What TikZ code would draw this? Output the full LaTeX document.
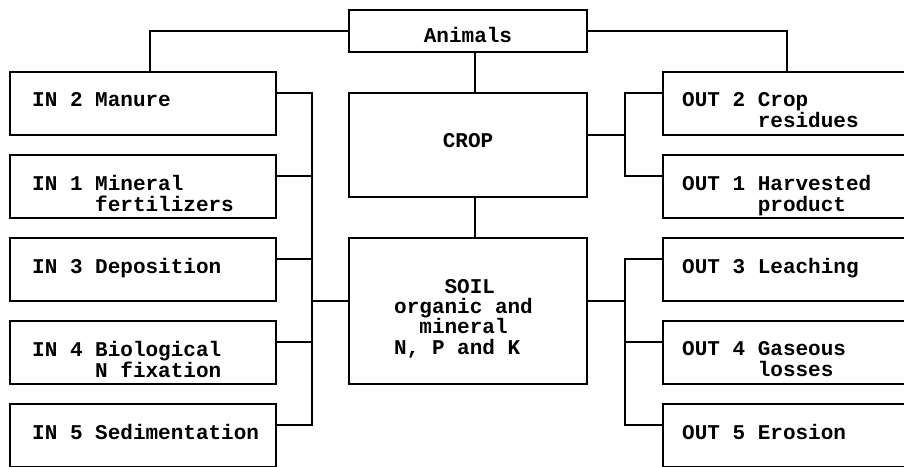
\documentclass[tikz,border=0pt]{standalone}
\usepackage{fontspec}
\setmonofont{Liberation Mono}
\usetikzlibrary{positioning,calc}
\tikzset{
  box/.style={
    draw,
    line width=1.8pt,
    inner sep=0pt,
    outer sep=0pt,
    minimum height=63pt
  },
  inbox/.style={box, minimum width=266pt},
  outbox/.style={box, minimum width=248pt},
  midbox/.style={box, minimum width=238pt, font=\lbfont},
  lbl/.style={anchor=north west, inner sep=0pt, align=left, font=\lbfont},
  link/.style={line width=1.8pt}
}
\newcommand{\lbfont}{\ttfamily\bfseries\fontsize{21}{21}\selectfont}

\begin{document}
\begin{tikzpicture}[x=1pt,y=-1pt]
  \useasboundingbox (0,0) rectangle (904,466);
  \clip (0,0) rectangle (904,466);

  % centre column
  \node[midbox,minimum height=42pt,anchor=north west,text height=22pt,text depth=0pt] (animals) at (349,10) {Animals};
  \node[midbox,minimum height=104pt,anchor=north west,text depth=10pt] (crop) at (349,93) {CROP};
  \node[midbox,minimum height=146pt,anchor=north west] (soil) at (349,238) {};
  \node[lbl,font=\ttfamily\bfseries\fontsize{21}{20.3}\selectfont] (t-soil)
    at ([shift={(45pt,-41pt)}]soil.north west)
    {\phantom{oooo}SOIL\\organic and\\\phantom{oo}mineral\\N, P and K};

  % inputs
  \node[inbox,anchor=north west] (in2) at (10,72) {};
  \node[inbox,below=20pt of in2] (in1) {};
  \node[inbox,below=20pt of in1] (in3) {};
  \node[inbox,below=20pt of in3] (in4) {};
  \node[inbox,below=20pt of in4] (in5) {};

  % outputs
  \node[outbox,anchor=north west] (out2) at (663,72) {};
  \node[outbox,below=20pt of out2] (out1) {};
  \node[outbox,below=20pt of out1] (out3) {};
  \node[outbox,below=20pt of out3] (out4) {};
  \node[outbox,below=20pt of out4] (out5) {};

  \node[lbl] (t-in2) at ([shift={(22pt,-20pt)}]in2.north west) {IN 2 Manure};
  \node[lbl] (t-in1) at ([shift={(22pt,-20pt)}]in1.north west) {IN 1 Mineral\\\phantom{IN 1 }fertilizers};
  \node[lbl] (t-in3) at ([shift={(22pt,-20pt)}]in3.north west) {IN 3 Deposition};
  \node[lbl] (t-in4) at ([shift={(22pt,-20pt)}]in4.north west) {IN 4 Biological\\\phantom{IN 4 }N fixation};
  \node[lbl] (t-in5) at ([shift={(22pt,-20pt)}]in5.north west) {IN 5 Sedimentation};

  \node[lbl] (t-out2) at ([shift={(19pt,-20pt)}]out2.north west) {OUT 2 Crop\\\phantom{OUT 2 }residues};
  \node[lbl] (t-out1) at ([shift={(19pt,-20pt)}]out1.north west) {OUT 1 Harvested\\\phantom{OUT 1 }product};
  \node[lbl] (t-out3) at ([shift={(19pt,-20pt)}]out3.north west) {OUT 3 Leaching};
  \node[lbl] (t-out4) at ([shift={(19pt,-20pt)}]out4.north west) {OUT 4 Gaseous\\\phantom{OUT 4 }losses};
  \node[lbl] (t-out5) at ([shift={(19pt,-20pt)}]out5.north west) {OUT 5 Erosion};

  % junctions
  \coordinate (lbus) at (312,301);
  \coordinate (rbus) at (625,301);
  \coordinate (cbus) at (625,135);

  \draw[link] (animals.west) -| ([xshift=7pt]in2.north);
  \draw[link] (animals.east) -| (out2.north);
  \draw[link] ([xshift=7pt]animals.south) -- ([xshift=7pt]crop.north);
  \draw[link] ([xshift=7pt]crop.south) -- ([xshift=7pt]soil.north);

  \foreach \n in {in2,in1,in3,in4,in5}
    \draw[link] ([yshift=-21pt]\n.north east) -| (lbus);
  \draw[link] (lbus) -- (soil.west |- lbus);

  \foreach \n in {out3,out4,out5}
    \draw[link] ([yshift=-21pt]\n.north west) -| (rbus);
  \draw[link] (rbus) -- (soil.east |- rbus);

  \foreach \n in {out2,out1}
    \draw[link] ([yshift=-21pt]\n.north west) -| (cbus);
  \draw[link] (cbus) -- (crop.east |- cbus);
\end{tikzpicture}
\end{document}
